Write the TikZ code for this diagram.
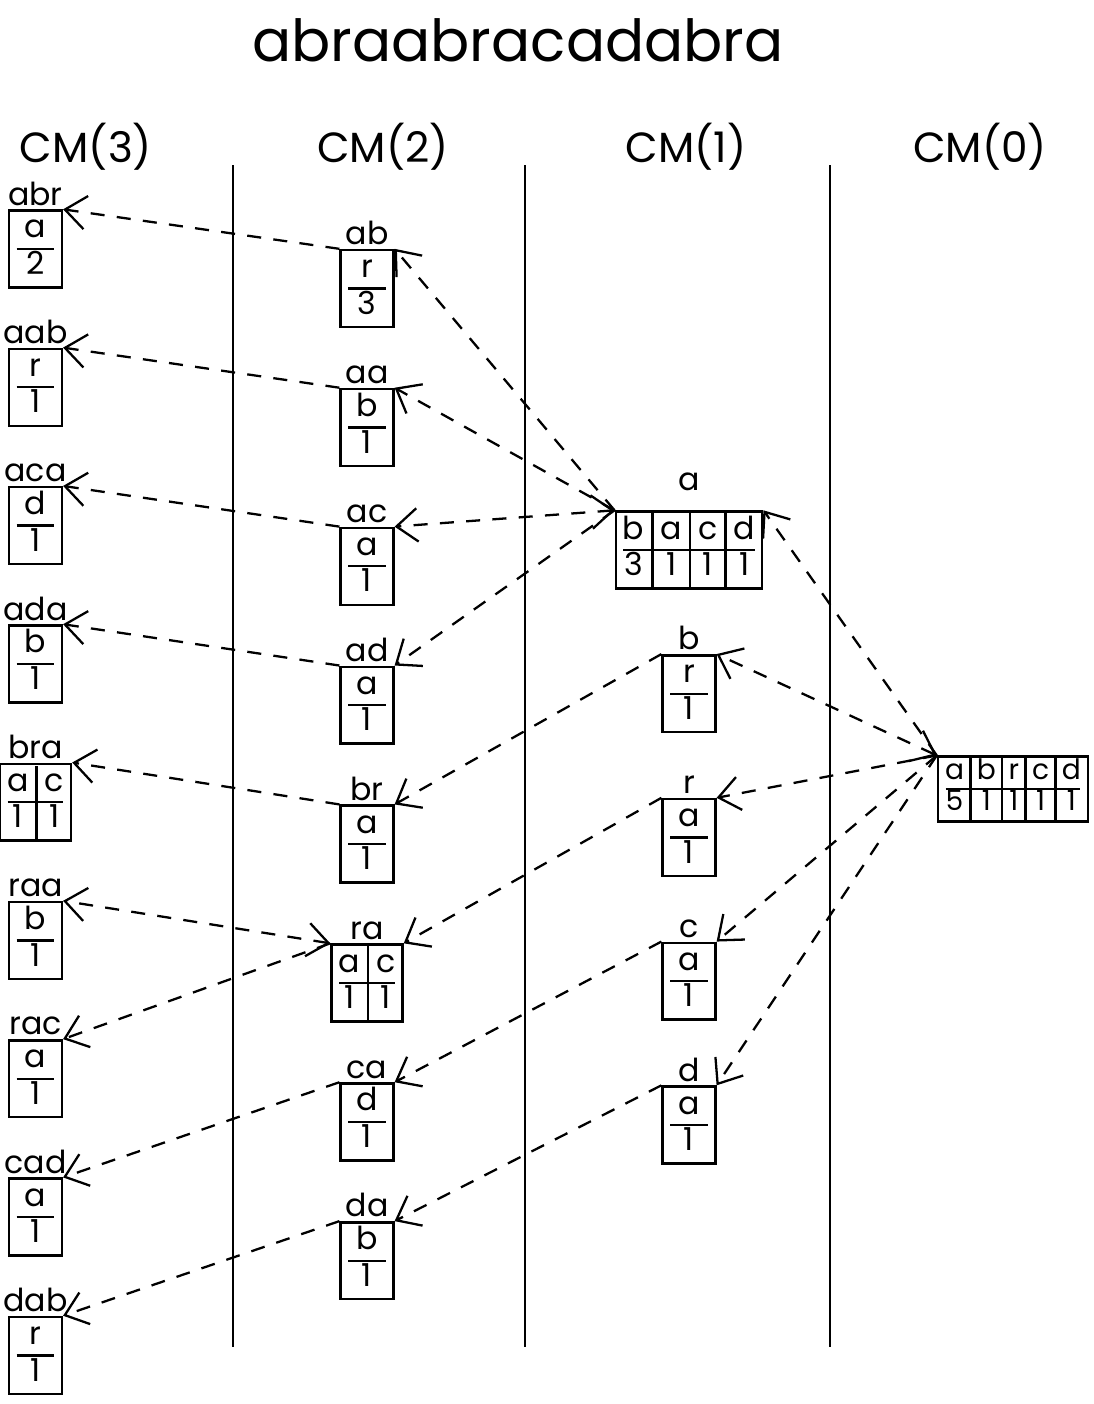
\documentclass[tikz,border=0pt]{standalone}
\usepackage{fontspec}
\setmainfont{Poppins}
\usepackage{array}
\usetikzlibrary{arrows.meta}

\newcolumntype{S}{>{\centering\arraybackslash}p{22pt}}
\newcommand{\ctab}[3]{\begin{tabular}{@{}#1@{}}#2\\#3\end{tabular}}
\setlength{\arrayrulewidth}{1.3pt}
\setlength{\tabcolsep}{4pt}
\renewcommand{\arraystretch}{0.87}

\tikzset{
  ctx/.style={draw, line width=1.4pt, inner xsep=4pt, inner ysep=1pt,
    font=\fontsize{18}{24}\selectfont},
  sep/.style={line width=1.3pt, black},
  every label/.style={inner sep=2pt, font=\fontsize{18}{22}\selectfont},
  link/.style={dash pattern=on 8pt off 7pt, line width=1.3pt},
  head/.style={font=\fontsize{24}{28}\selectfont}
}

\begin{document}
\begin{tikzpicture}[>={Straight Barb[length=12pt,width=19pt]}]
    \useasboundingbox (0,0) rectangle (21.88,-28.08);
    \node (title) at (10.36,-0.8) {\fontsize{33}{40}\selectfont abraabracadabra};
    \node[head] (cm3) at (1.72,-2.94) {CM(3)};
    \node[head] (cm2) at (7.66,-2.94) {CM(2)};
    \node[head] (cm1) at (13.72,-2.94) {CM(1)};
    \node[head] (cm0) at (19.6,-2.94) {CM(0)};
    \draw[line width=1.5pt] (4.66,-3.3) -- (4.66,-26.94)
                            (10.5,-3.3) -- (10.5,-26.94)
                            (16.6,-3.3) -- (16.6,-26.94);

    % CM(3)
    \begin{scope}[node distance=2.766cm]
    \node[ctx, label=above:abr] (abr) at (0.71,-4.98) {\ctab{S}{a}{2}};
    \node[ctx, label=above:aab, below of=abr] (aab) {\ctab{S}{r}{1}};
    \node[ctx, label=above:aca, below of=aab] (aca) {\ctab{S}{d}{1}};
    \node[ctx, label=above:ada, below of=aca] (ada) {\ctab{S}{b}{1}};
    \node[ctx, label=above:bra, below of=ada] (bra) {\ctab{c|c}{a&c}{1&1}};
    \node[ctx, label=above:raa, below of=bra] (raa) {\ctab{S}{b}{1}};
    \node[ctx, label=above:rac, below of=raa] (rac) {\ctab{S}{a}{1}};
    \node[ctx, label=above:cad, below of=rac] (cad) {\ctab{S}{a}{1}};
    \node[ctx, label=above:dab, below of=cad] (dab) {\ctab{S}{r}{1}};
    \end{scope}

    % CM(2)
    \begin{scope}[node distance=2.778cm]
    \node[ctx, label=above:ab] (ab) at (7.34,-5.77) {\ctab{S}{r}{3}};
    \node[ctx, label=above:aa, below of=ab] (aa) {\ctab{S}{b}{1}};
    \node[ctx, label=above:ac, below of=aa] (ac) {\ctab{S}{a}{1}};
    \node[ctx, label=above:ad, below of=ac] (ad) {\ctab{S}{a}{1}};
    \node[ctx, label=above:br, below of=ad] (br) {\ctab{S}{a}{1}};
    \node[ctx, label=above:ra, below of=br] (ra) {\ctab{c|c}{a&c}{1&1}};
    \node[ctx, label=above:ca, below of=ra] (ca) {\ctab{S}{d}{1}};
    \node[ctx, label=above:da, below of=ca] (da) {\ctab{S}{b}{1}};
    \end{scope}

    % CM(1)
    \begin{scope}[node distance=2.875cm]
    \node[ctx, label={[label distance=9pt]above:a}] (a) at (13.78,-11.0) {\ctab{c|c|c|c}{b&a&c&d}{3&1&1&1}};
    \node[ctx, label=above:b, below of=a] (b) {\ctab{S}{r}{1}};
    \node[ctx, label=above:r, below of=b] (r) {\ctab{S}{a}{1}};
    \node[ctx, label=above:c, below of=r] (c) {\ctab{S}{a}{1}};
    \node[ctx, label=above:d, below of=c] (d) {\ctab{S}{a}{1}};
    \end{scope}

    % CM(0)
    \node[ctx, font=\fontsize{16}{20}\selectfont] (root) at (20.26,-15.78)
        {\setlength{\tabcolsep}{3pt}\ctab{c|c|c|c|c}{a&b&r&c&d}{5&1&1&1&1}};

    % rule between symbol row and count row
    \foreach \n in {abr,aab,aca,ada,bra,raa,rac,cad,dab,ab,aa,ac,ad,br,ra,ca,da,a,b,r,c,d,root}
        \draw[sep] ([xshift=5pt]\n.west) -- ([xshift=-5pt]\n.east);

    \path[link, ->]
        (ab.north west) edge (abr.north east) (aa.north west) edge (aab.north east)
        (ac.north west) edge (aca.north east) (ad.north west) edge (ada.north east)
        (br.north west) edge (bra.north east)
        (ra.north west) edge[<->] (raa.north east) (ra.north west) edge (rac.north east)
        (ca.north west) edge (cad.north east) (da.north west) edge (dab.north east)
        (a.north west) edge (ab.north east) (a.north west) edge (aa.north east)
        (a.north west) edge[<->] (ac.north east) (a.north west) edge (ad.north east)
        (b.north west) edge (br.north east) (r.north west) edge (ra.north east)
        (c.north west) edge (ca.north east) (d.north west) edge (da.north east)
        (root.north west) edge (a.north east) (root.north west) edge[<->] (b.north east)
        (root.north west) edge (r.north east) (root.north west) edge (c.north east)
        (root.north west) edge (d.north east);
\end{tikzpicture}
\end{document}
